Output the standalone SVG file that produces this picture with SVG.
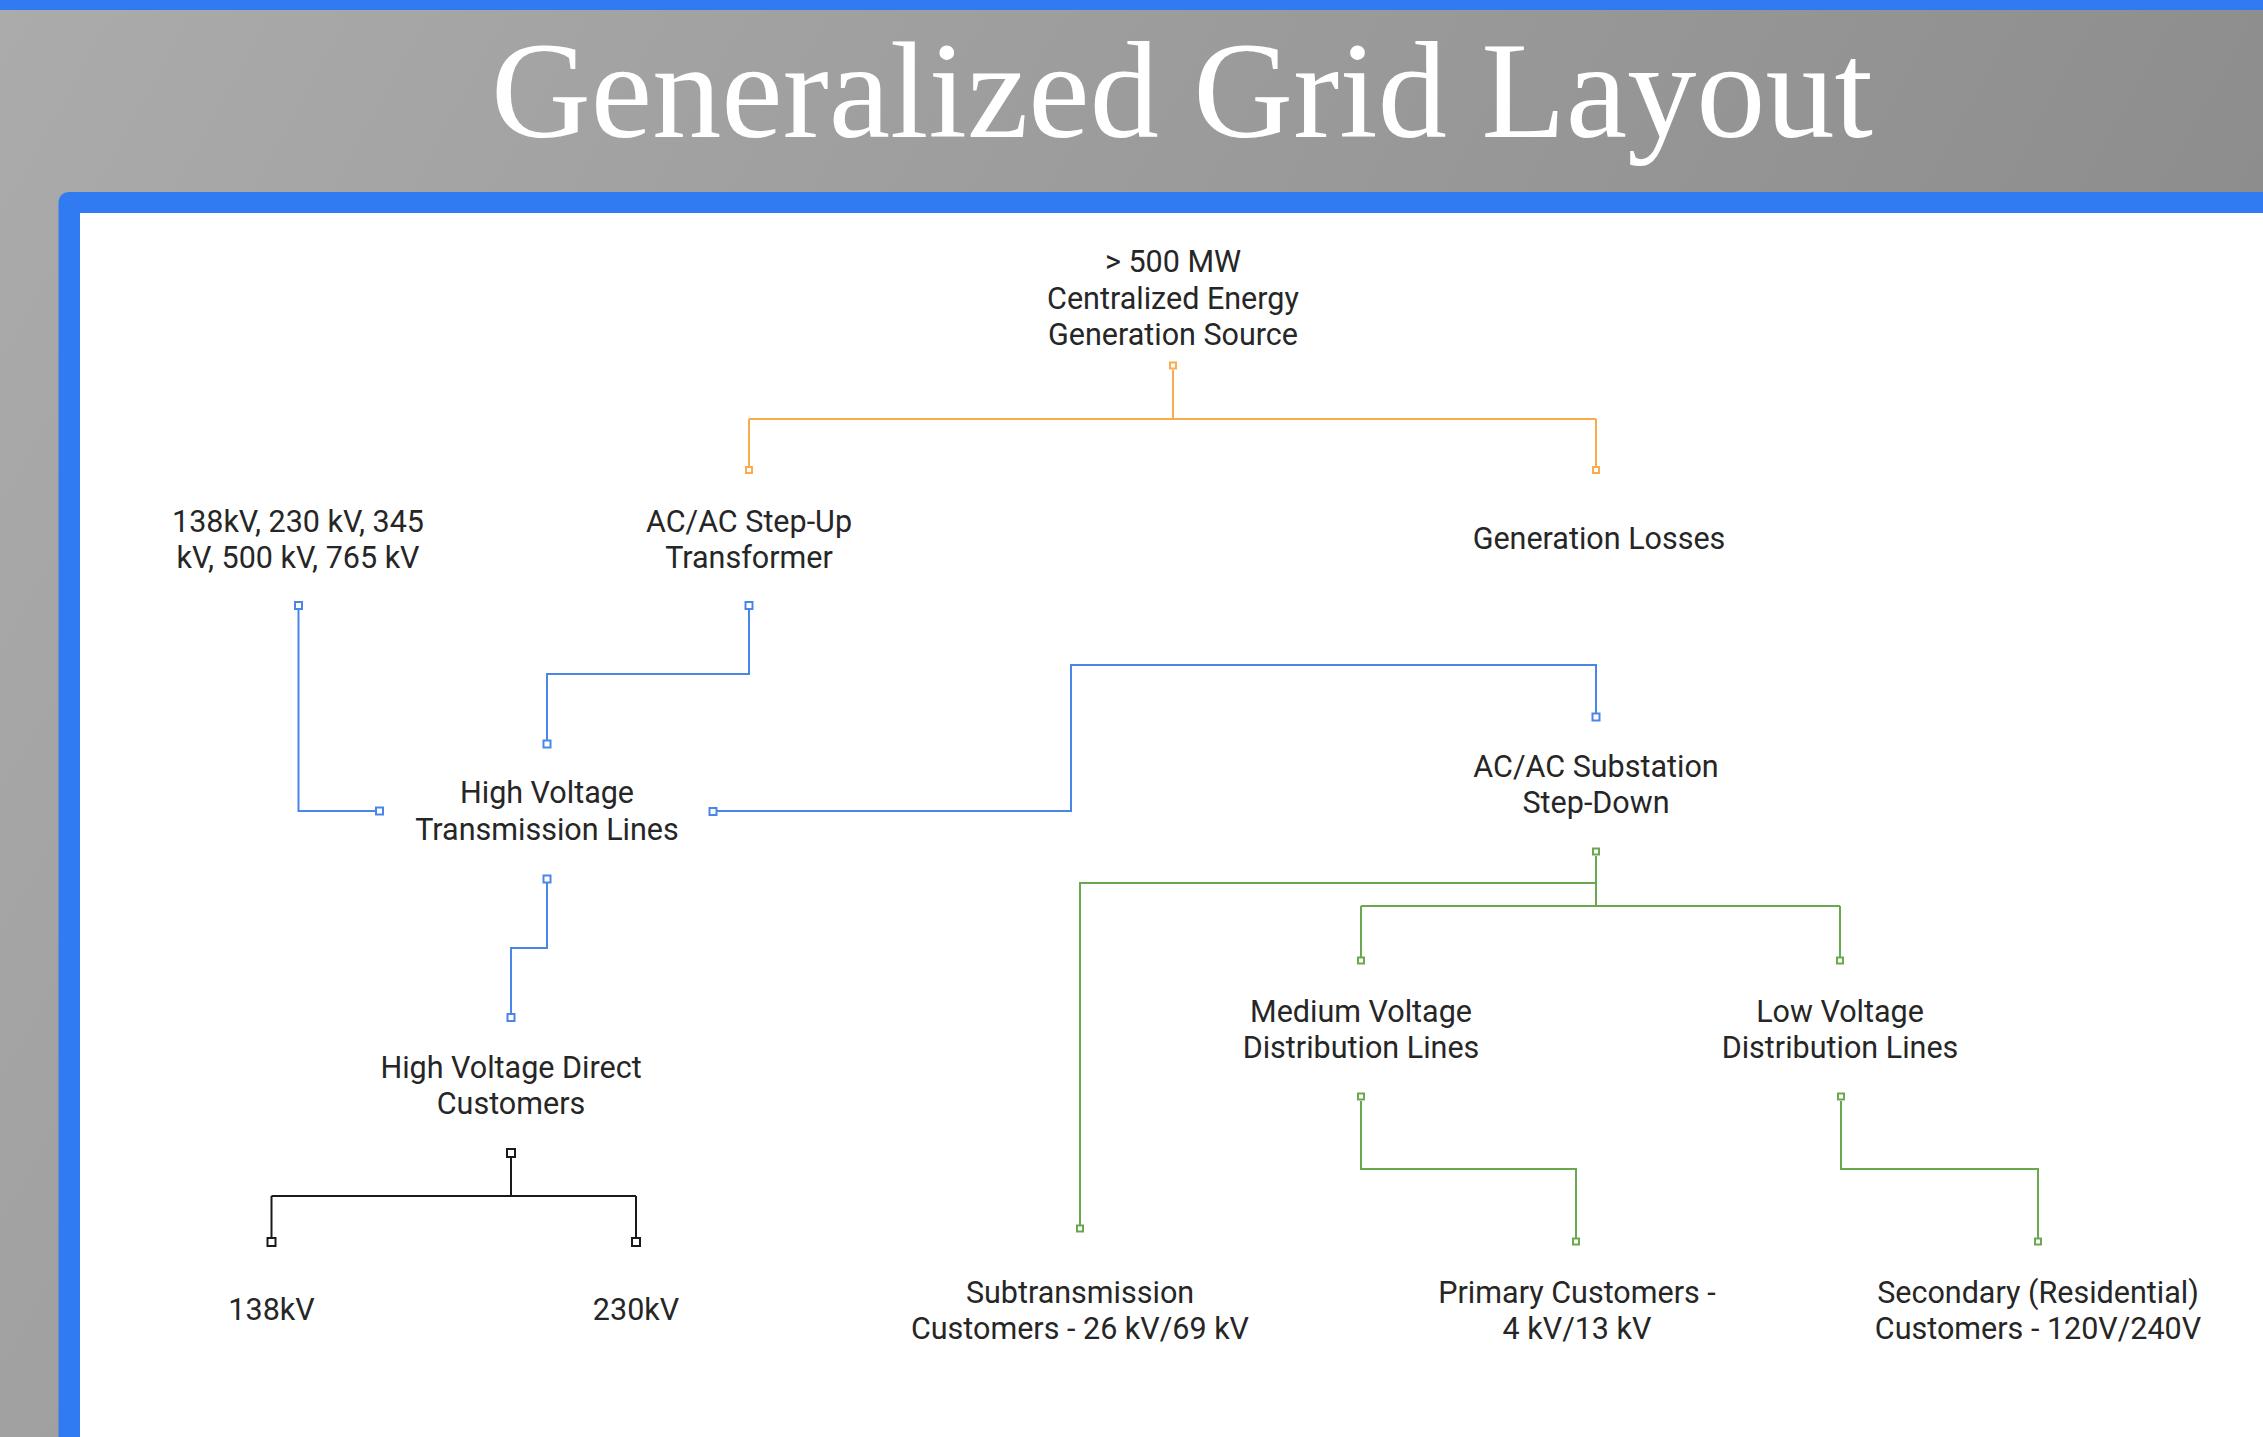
<svg xmlns="http://www.w3.org/2000/svg" width="2263" height="1437" viewBox="0 0 2263 1437">
  <defs>
    <linearGradient id="bg" x1="0" y1="0" x2="1" y2="0.35">
      <stop offset="0" stop-color="#ababab"/>
      <stop offset="1" stop-color="#8b8b8b"/>
    </linearGradient>
    <style>
      .lbl { font-family: Roboto, "Liberation Sans", sans-serif; font-size: 30.5px; fill: #262626; text-anchor: middle; }
      .ln { fill: none; stroke-width: 2; stroke-linejoin: miter; }
      .or { stroke: #f9ac4d; }
      .bl { stroke: #4a86e8; }
      .gr { stroke: #6aa84f; }
      .bk { stroke: #1a1a1a; }
      .sq { fill: #ffffff; stroke-width: 2; }
    </style>
  </defs>

  <!-- background -->
  <rect x="0" y="0" width="2263" height="1437" fill="url(#bg)"/>
  <rect x="0" y="0" width="2263" height="10" fill="#317bf2"/>
  <text x="1182" y="137" font-family="'Liberation Serif', serif" font-size="137" fill="#ffffff" text-anchor="middle" textLength="1382" lengthAdjust="spacingAndGlyphs">Generalized Grid Layout</text>

  <!-- panel -->
  <rect x="58.5" y="192" width="2300" height="1300" rx="10" fill="#317bf2"/>
  <rect x="80" y="213" width="2300" height="1300" fill="#ffffff"/>

  <!-- connectors -->
  <g id="connectors">
    <!-- orange -->
    <path class="ln or" d="M1173 370 V419 M749 419 H1596 M749 419 V466.5 M1596 419 V466.5"/>
    <rect class="sq or" x="1170" y="362.5" width="6" height="6"/>
    <rect class="sq or" x="746" y="467" width="6" height="6"/>
    <rect class="sq or" x="1593" y="467" width="6" height="6"/>

    <!-- blue -->
    <path class="ln bl" d="M298.5 610 V811 H375.5"/>
    <rect class="sq bl" x="295" y="602" width="7" height="7"/>
    <rect class="sq bl" x="376" y="807.5" width="7" height="7"/>

    <path class="ln bl" d="M749 610 V674 H547 V740"/>
    <rect class="sq bl" x="745.5" y="602" width="7" height="7"/>
    <rect class="sq bl" x="543.5" y="740.5" width="7" height="7"/>

    <path class="ln bl" d="M717 811 H1071 V665 H1596 V713"/>
    <rect class="sq bl" x="709.5" y="808" width="7" height="7"/>
    <rect class="sq bl" x="1592.5" y="713.5" width="7" height="7"/>

    <path class="ln bl" d="M547 883 V948 H511 V1014"/>
    <rect class="sq bl" x="543.5" y="875.5" width="7" height="7"/>
    <rect class="sq bl" x="507.5" y="1014" width="7" height="7"/>

    <!-- black -->
    <path class="ln bk" d="M511 1157 V1196 M271.5 1196 H636 M271.5 1196 V1237.5 M636 1196 V1237.5"/>
    <rect class="sq bk" x="507" y="1149" width="8" height="8"/>
    <rect class="sq bk" x="267.5" y="1238" width="8" height="8"/>
    <rect class="sq bk" x="632" y="1238" width="8" height="8"/>

    <!-- green -->
    <path class="ln gr" d="M1596 856 V906 M1596 883 H1080 V1225 M1361 906 H1840 M1361 906 V957 M1840 906 V957"/>
    <rect class="sq gr" x="1593" y="848.5" width="6" height="6"/>
    <rect class="sq gr" x="1077" y="1225.5" width="6" height="6"/>
    <rect class="sq gr" x="1358" y="957.5" width="6" height="6"/>
    <rect class="sq gr" x="1837" y="957.5" width="6" height="6"/>

    <path class="ln gr" d="M1361 1101 V1169 H1576 V1238"/>
    <rect class="sq gr" x="1358" y="1093.5" width="6" height="6"/>
    <rect class="sq gr" x="1573" y="1238.5" width="6" height="6"/>

    <path class="ln gr" d="M1841 1101 V1169 H2038 V1238"/>
    <rect class="sq gr" x="1838" y="1093.5" width="6" height="6"/>
    <rect class="sq gr" x="2035" y="1238.5" width="6" height="6"/>
  </g>

  <!-- nodes -->
  <g id="node-source">
    <text class="lbl" x="1173" y="272">&gt; 500 MW</text>
    <text class="lbl" x="1173" y="309">Centralized Energy</text>
    <text class="lbl" x="1173" y="345">Generation Source</text>
  </g>
  <g id="node-voltages">
    <text class="lbl" x="298" y="532">138kV, 230 kV, 345</text>
    <text class="lbl" x="298" y="568">kV, 500 kV, 765 kV</text>
  </g>
  <g id="node-stepup">
    <text class="lbl" x="749" y="532">AC/AC Step-Up</text>
    <text class="lbl" x="749" y="568">Transformer</text>
  </g>
  <g id="node-losses">
    <text class="lbl" x="1599" y="549">Generation Losses</text>
  </g>
  <g id="node-hvtl">
    <text class="lbl" x="547" y="803">High Voltage</text>
    <text class="lbl" x="547" y="840">Transmission Lines</text>
  </g>
  <g id="node-substation">
    <text class="lbl" x="1596" y="777">AC/AC Substation</text>
    <text class="lbl" x="1596" y="813">Step-Down</text>
  </g>
  <g id="node-hvdc">
    <text class="lbl" x="511" y="1078">High Voltage Direct</text>
    <text class="lbl" x="511" y="1114">Customers</text>
  </g>
  <g id="node-138">
    <text class="lbl" x="271.5" y="1320">138kV</text>
  </g>
  <g id="node-230">
    <text class="lbl" x="636" y="1320">230kV</text>
  </g>
  <g id="node-mv">
    <text class="lbl" x="1361" y="1022">Medium Voltage</text>
    <text class="lbl" x="1361" y="1058">Distribution Lines</text>
  </g>
  <g id="node-lv">
    <text class="lbl" x="1840" y="1022">Low Voltage</text>
    <text class="lbl" x="1840" y="1058">Distribution Lines</text>
  </g>
  <g id="node-subtrans">
    <text class="lbl" x="1080" y="1303">Subtransmission</text>
    <text class="lbl" x="1080" y="1339">Customers - 26 kV/69 kV</text>
  </g>
  <g id="node-primary">
    <text class="lbl" x="1577" y="1303">Primary Customers -</text>
    <text class="lbl" x="1577" y="1339">4 kV/13 kV</text>
  </g>
  <g id="node-secondary">
    <text class="lbl" x="2038" y="1303">Secondary (Residential)</text>
    <text class="lbl" x="2038" y="1339">Customers - 120V/240V</text>
  </g>
</svg>
